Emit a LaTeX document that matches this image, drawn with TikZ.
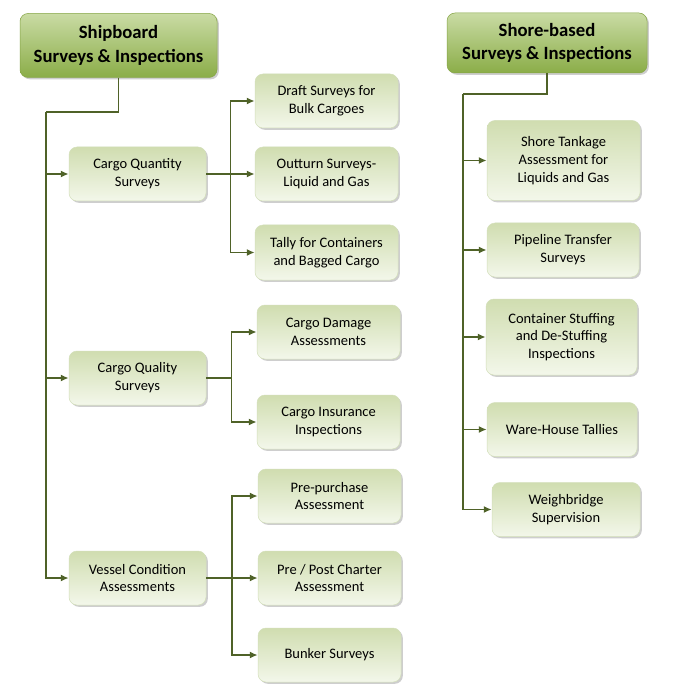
\documentclass[tikz,border=0pt]{standalone}
\usepackage{fontspec}
\setmainfont{Carlito}
\usetikzlibrary{arrows.meta,shadows,calc}

\definecolor{linkgreen}{HTML}{4F6228}
\definecolor{headtop}{HTML}{C9DBA4}
\definecolor{headbot}{HTML}{8BAD48}
\definecolor{headedge}{HTML}{86A546}
\definecolor{leaftop}{HTML}{D0DDB0}
\definecolor{leafbot}{HTML}{F3F7EA}
\definecolor{leafedge}{HTML}{D3DFBA}

\begin{document}
\begin{tikzpicture}[x=1pt, y=-1pt,
  link/.style={draw=linkgreen, line width=1.7pt},
  linkto/.style={link, -{Latex[length=8pt,width=7pt]}},
  boxbase/.style={rounded corners=8pt, inner sep=0pt, align=center,
    drop shadow={shadow xshift=1.8pt, shadow yshift=-1.8pt, opacity=0.35, fill=black!55}},
  head/.style={boxbase, top color=headtop, bottom color=headbot, draw=headedge, line width=0.5pt,
    font=\fontsize{18.7}{23.5}\selectfont\bfseries},
  leaf/.style={boxbase, top color=leaftop, bottom color=leafbot, draw=leafedge, line width=0.5pt,
    font=\fontsize{14.5}{17.8}\selectfont}]

  %% ════ 白底 + 画布 ════
  \fill[white] (0,0) rectangle (700,700);

  %% ════ 标题框 ════
  \node[head, minimum width=197pt, minimum height=64pt] (ship)  at (118.5,45.5) {Shipboard\\Surveys \& Inspections};   % box(20,14,197,64)
  \node[head, minimum width=200pt, minimum height=60pt] (shore) at (547.0,43.0) {Shore-based\\Surveys \& Inspections}; % box(447,13,200,60)

  %% ════ 第二层（左）════
  \node[leaf, minimum width=137pt, minimum height=54pt] (cqty)   at (137.5,174.0) {Cargo Quantity\\Surveys};
  \node[leaf, minimum width=137pt, minimum height=54pt] (cqual)  at (137.5,378.0) {Cargo Quality\\Surveys};
  \node[leaf, minimum width=137pt, minimum height=54pt] (vessel) at (137.5,578.0) {Vessel Condition\\Assessments};

  %% ════ 第三层（左）════
  \node[leaf, minimum width=143pt, minimum height=54pt] (draft)   at (326.5,101.0) {Draft Surveys for\\Bulk Cargoes};
  \node[leaf, minimum width=143pt, minimum height=54pt] (outturn) at (326.5,174.0) {Outturn Surveys-\\Liquid and Gas};
  \node[leaf, minimum width=143pt, minimum height=55pt] (tally)   at (326.5,252.5) {Tally for Containers\\and Bagged Cargo};
  \node[leaf, minimum width=143pt, minimum height=54pt] (damage)  at (328.5,332.0) {Cargo Damage\\Assessments};
  \node[leaf, minimum width=143pt, minimum height=54pt] (insure)  at (328.5,422.0) {Cargo Insurance\\Inspections};
  \node[leaf, minimum width=143pt, minimum height=54pt] (prebuy)  at (329.5,496.0) {Pre-purchase\\Assessment};
  \node[leaf, minimum width=143pt, minimum height=54pt] (charter) at (329.5,578.0) {Pre / Post Charter\\Assessment};
  \node[leaf, minimum width=143pt, minimum height=54pt] (bunker)  at (329.5,655.0) {Bunker Surveys};

  %% ════ 右列 ════
  \node[leaf, minimum width=153pt, minimum height=80pt] (tank)   at (563.5,160.5) {Shore Tankage\\Assessment for\\Liquids and Gas};
  \node[leaf, minimum width=152pt, minimum height=54pt] (pipe)   at (563.0,250.0) {Pipeline Transfer\\Surveys};
  \node[leaf, minimum width=151pt, minimum height=76pt] (stuff)  at (561.5,337.0) {Container Stuffing\\and De-Stuffing\\Inspections};
  \node[leaf, minimum width=150pt, minimum height=54pt] (ware)   at (562.0,429.5) {Ware-House Tallies};
  \node[leaf, minimum width=148pt, minimum height=54pt] (weigh)  at (566.0,509.5) {Weighbridge\\Supervision};

  %% ════ 折点 ════
  \coordinate (shipjoin)  at (46,112);
  \coordinate (shorejoin) at (463,94);
  \coordinate (qtyfork)  at ($(cqty.east)!0.5!(outturn.west)$);
  \coordinate (qualfork) at ($(cqual.east)!0.5!(cqual.east -| damage.west)$);
  \coordinate (vesfork)  at ($(vessel.east)!0.5!(charter.west)$);

  %% ════ 连线 ════
  \draw[link] (ship.south) |- (shipjoin);
  \draw[linkto] (shipjoin) |- (cqty.west);
  \draw[linkto] (shipjoin) |- (cqual.west);
  \draw[linkto] (shipjoin) |- (vessel.west);

  \draw[link] (cqty.east) -- (qtyfork);
  \draw[linkto] (qtyfork) |- (draft.west);
  \draw[linkto] (qtyfork) -- (outturn.west);
  \draw[linkto] (qtyfork) |- (tally.west);

  \draw[link] (cqual.east) -- (qualfork);
  \draw[linkto] (qualfork) |- (damage.west);
  \draw[linkto] (qualfork) |- (insure.west);

  \draw[link] (vessel.east) -- (vesfork);
  \draw[linkto] (vesfork) |- (prebuy.west);
  \draw[linkto] (vesfork) -- (charter.west);
  \draw[linkto] (vesfork) |- (bunker.west);

  \draw[link] (shore.south) |- (shorejoin);
  \draw[linkto] (shorejoin) |- (tank.west);
  \draw[linkto] (shorejoin) |- (pipe.west);
  \draw[linkto] (shorejoin) |- (stuff.west);
  \draw[linkto] (shorejoin) |- (ware.west);
  \draw[linkto] (shorejoin) |- (weigh.west);

  % 钉死画布
  \pgfresetboundingbox
  \path[use as bounding box] (0,0) rectangle (700,700);
\end{tikzpicture}
\end{document}
